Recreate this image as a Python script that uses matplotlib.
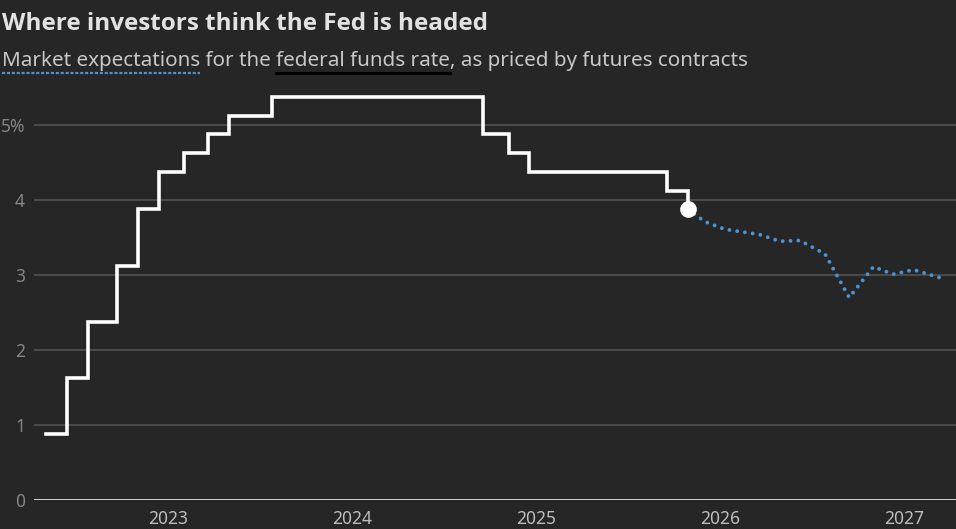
import numpy as np
import matplotlib
matplotlib.use("Agg")
import matplotlib.pyplot as plt

# fed funds rate, midpoint of target range (%)
rate_dates = np.array(["2022-05-04", "2022-06-15", "2022-07-27", "2022-09-21",
                       "2022-11-02", "2022-12-14", "2023-02-01", "2023-03-22",
                       "2023-05-03", "2023-07-26", "2024-09-18", "2024-11-07",
                       "2024-12-18", "2025-09-17", "2025-10-29"], dtype="datetime64[D]")
rate_vals = [0.875, 1.625, 2.375, 3.125, 3.875, 4.375, 4.625, 4.875,
             5.125, 5.375, 4.875, 4.625, 4.375, 4.125, 3.875]

# futures-implied path
fut_dates = np.array(["2025-10-29", "2025-12-02", "2026-01-10", "2026-03-20",
                      "2026-04-29", "2026-06-08", "2026-07-03", "2026-07-28",
                      "2026-09-14", "2026-11-01", "2026-12-10", "2027-01-20",
                      "2027-03-15"], dtype="datetime64[D]")
fut_vals = [3.875, 3.71, 3.61, 3.54, 3.45, 3.46, 3.37, 3.28,
            2.70, 3.11, 3.01, 3.07, 2.96]

years = [2023, 2024, 2025, 2026, 2027]
ytick_vals = [0, 1, 2, 3, 4, 5]
ytick_labels = ["0", "1", "2", "3", "4", "5%"]

title = "Where investors think the Fed is headed"
subtitle = "Market expectations for the federal funds rate, as priced by futures contracts"

bg = "#262626"
blue = "#4a93d3"

plt.rcParams["font.family"] = ["Noto Sans", "DejaVu Sans"]

fig = plt.figure(figsize=(9.56, 5.29), dpi=100, facecolor=bg)
ax = fig.add_axes([34/956, 29/529, 922/956, 412.5/529], facecolor=bg)

for v in ytick_vals[1:]:
    ax.axhline(v, color="#555555", lw=1.1, zorder=1)
ax.axhline(0, color="#d0d0d0", lw=1.4, zorder=2)

ax.plot(rate_dates, rate_vals, drawstyle="steps-post", color="white", lw=2.6,
        solid_joinstyle="miter", zorder=3)
ax.plot(fut_dates, fut_vals, color=blue, lw=2.8, linestyle=(0, (0.01, 2.0)),
        dash_capstyle="round", zorder=3)
ax.plot(rate_dates[-1:], rate_vals[-1:], "o", color="white", ms=11, zorder=4)

ax.set_xlim(np.datetime64("2022-04-10"), np.datetime64("2027-04-14"))
ax.set_ylim(0, 5.5)

ax.set_xticks([np.datetime64("%d-01-01" % y) for y in years])
ax.set_xticklabels([str(y) for y in years])
ax.set_yticks(ytick_vals)
ax.set_yticklabels(ytick_labels)
ax.tick_params(axis="x", length=0, pad=7, labelsize=12.5, labelcolor="#bdbdbd")
ax.tick_params(axis="y", length=0, pad=6.5, labelsize=12.5, labelcolor="#858585")
for s in ax.spines.values():
    s.set_visible(False)

fig.canvas.draw()
r = fig.canvas.get_renderer()

# title and subtitle, sized to the reference widths
t = fig.text(2/956, 1 - 29.5/529, title, color="#e2e2e2", fontsize=17.5,
             family=["Open Sans", "DejaVu Sans"], fontweight="bold",
             va="baseline", ha="left")
t.set_fontsize(17.5 * 484 / t.get_window_extent(r).width)

sub_size = 14.85
sub = fig.text(2/956, 1 - 66/529, subtitle, color="#c8c8c8", fontsize=sub_size,
               va="baseline", ha="left")
sub.set_fontsize(sub_size * 745 / sub.get_window_extent(r).width)
sub_size = sub.get_fontsize()

# underline pieces of the subtitle
def width(s):
    tt = fig.text(0, 0, s, fontsize=sub_size)
    w = tt.get_window_extent(r).width
    tt.remove()
    return w

x0 = 2
w1 = width("Market expectations")
fed_end = width("Market expectations for the federal funds rate")
fed_start = fed_end - width("federal funds rate")
ul_y = 1 - 72.5/529
fig.add_artist(plt.Line2D([x0/956, (x0 + w1)/956], [ul_y, ul_y], color=blue,
                          lw=1.6, linestyle=(0, (1.4, 0.8)), transform=fig.transFigure))
fig.add_artist(plt.Line2D([(x0 + fed_start)/956, (x0 + fed_end)/956], [ul_y, ul_y],
                          color="black", lw=2.2, transform=fig.transFigure))

fig.savefig("out.png", dpi=100, facecolor=bg)
